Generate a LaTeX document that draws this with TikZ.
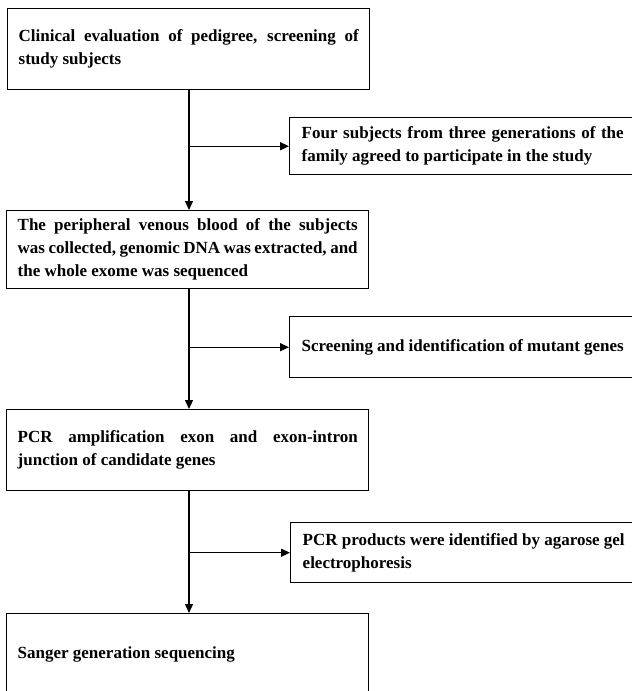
\documentclass[tikz,border=0pt]{standalone}
\usepackage{fontspec}
\setmainfont{Liberation Serif}
\usetikzlibrary{arrows.meta}
\hyphenpenalty=10000
\exhyphenpenalty=10000
\tolerance=10000
\hbadness=10000
\begin{document}
\begin{tikzpicture}[x=1pt,y=-1pt,
  box/.style={draw, line width=1.4pt, anchor=north west, inner xsep=11pt, inner ysep=0pt,
    text width=340pt, minimum height=81pt, align=justify,
    font=\fontsize{17}{23}\selectfont\bfseries},
  side/.style={box, inner xsep=12pt, text width=322pt, minimum height=57pt},
  arr/.style={line width=1.4pt, -{Triangle[length=9pt,width=8pt]}}]
\useasboundingbox (0,0) rectangle (632,691);
\clip (0,0) rectangle (632,691);
\fill[white] (0,0) rectangle (632,691);
\node[box] (b1) at (7,8) {Clinical evaluation of pedigree, screening of\linebreak study subjects};
\node[side] (s1) at (289,117) {Four subjects from three generations of the\linebreak family agreed to participate in the study};
\node[box, minimum height=78pt] (b2) at (6,210) {The peripheral venous blood of the subjects\linebreak was collected, genomic DNA was extracted, and\linebreak the whole exome was sequenced};
\node[side, minimum height=61pt] (s2) at (289,316) {Screening and identification of mutant genes};
\node[box] (b3) at (6,409) {PCR amplification exon and exon-intron\linebreak junction of candidate genes};
\node[side, minimum height=60pt] (s3) at (290,522) {PCR products were identified by agarose gel\linebreak electrophoresis};
\node[box, minimum height=82pt] (b4) at (6,613) {Sanger generation sequencing};
\coordinate (v1) at (189,0);
\draw[arr] (v1 |- b1.south) -- (v1 |- b2.north);
\draw[arr] (v1 |- s1.west) -- (s1.west);
\draw[arr] (v1 |- b2.south) -- (v1 |- b3.north);
\draw[arr] (v1 |- s2.west) -- (s2.west);
\draw[arr] (v1 |- b3.south) -- (v1 |- b4.north);
\draw[arr] (v1 |- s3.west) -- (s3.west);
\end{tikzpicture}
\end{document}
